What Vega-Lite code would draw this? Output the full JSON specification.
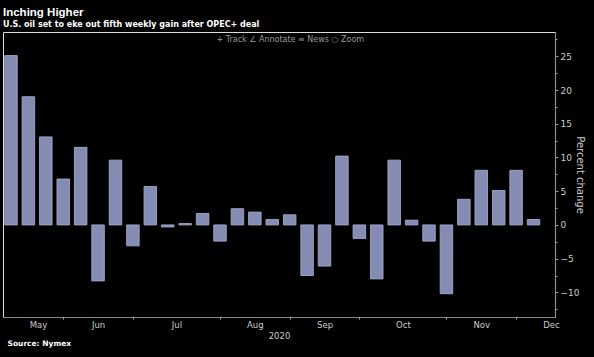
{
  "$schema": "https://vega.github.io/schema/vega-lite/v6.json",
  "autosize": "none",
  "width": 552,
  "height": 285,
  "padding": {"left": 3, "top": 32, "right": 39, "bottom": 40},
  "background": "#000000",
  "title": {
    "text": "Inching Higher",
    "subtitle": "U.S. oil set to eke out fifth weekly gain after OPEC+ deal",
    "anchor": "start",
    "frame": "group",
    "font": "Liberation Sans",
    "fontSize": 11.5,
    "fontWeight": "bold",
    "color": "#ffffff",
    "subtitleFont": "DejaVu Sans",
    "subtitleFontSize": 8,
    "subtitleFontWeight": "bold",
    "subtitleColor": "#ffffff",
    "subtitlePadding": 3,
    "offset": 3
  },
  "data": {
    "values": [
      {"date": "2020-05-08", "pct": 25.1},
      {"date": "2020-05-15", "pct": 19.0},
      {"date": "2020-05-22", "pct": 13.05},
      {"date": "2020-05-29", "pct": 6.8},
      {"date": "2020-06-05", "pct": 11.5},
      {"date": "2020-06-12", "pct": -8.3},
      {"date": "2020-06-19", "pct": 9.6},
      {"date": "2020-06-26", "pct": -3.1},
      {"date": "2020-07-03", "pct": 5.7},
      {"date": "2020-07-10", "pct": -0.3},
      {"date": "2020-07-17", "pct": 0.2},
      {"date": "2020-07-24", "pct": 1.7},
      {"date": "2020-07-31", "pct": -2.4},
      {"date": "2020-08-07", "pct": 2.4},
      {"date": "2020-08-14", "pct": 1.9},
      {"date": "2020-08-21", "pct": 0.8},
      {"date": "2020-08-28", "pct": 1.5},
      {"date": "2020-09-04", "pct": -7.5},
      {"date": "2020-09-11", "pct": -6.1},
      {"date": "2020-09-18", "pct": 10.2},
      {"date": "2020-09-25", "pct": -2.0},
      {"date": "2020-10-02", "pct": -8.0},
      {"date": "2020-10-09", "pct": 9.6},
      {"date": "2020-10-16", "pct": 0.7},
      {"date": "2020-10-23", "pct": -2.4},
      {"date": "2020-10-30", "pct": -10.2},
      {"date": "2020-11-06", "pct": 3.8},
      {"date": "2020-11-13", "pct": 8.1},
      {"date": "2020-11-20", "pct": 5.1},
      {"date": "2020-11-27", "pct": 8.1},
      {"date": "2020-12-04", "pct": 0.8}
    ]
  },
  "resolve": {"axis": {"x": "independent", "y": "independent"}},
  "layer": [
    {
      "mark": {"type": "bar", "size": 12.5, "fill": "#858cb4", "stroke": "#a3a9cc", "strokeWidth": 0.9},
      "encoding": {
        "x": {
          "field": "date",
          "type": "temporal",
          "scale": {
            "type": "utc",
            "padding": 0,
            "domain": [
              {"year": 2020, "month": 5, "date": 4, "hours": 19, "utc": true},
              {"year": 2020, "month": 12, "date": 12, "hours": 15, "utc": true}
            ]
          },
          "axis": {
            "orient": "bottom",
            "values": [
              {"year": 2020, "month": 5, "date": 18, "hours": 20, "utc": true},
              {"year": 2020, "month": 6, "date": 12, "utc": true},
              {"year": 2020, "month": 7, "date": 13, "hours": 12, "utc": true},
              {"year": 2020, "month": 8, "date": 14, "utc": true},
              {"year": 2020, "month": 9, "date": 11, "utc": true},
              {"year": 2020, "month": 10, "date": 12, "hours": 12, "utc": true},
              {"year": 2020, "month": 11, "date": 13, "utc": true},
              {"year": 2020, "month": 12, "date": 11, "utc": true}
            ],
            "labelExpr": "utcFormat(datum.value, '%b')",
            "ticks": false,
            "grid": false,
            "domain": true,
            "domainColor": "#8a8a8a",
            "domainWidth": 1.2,
            "labelColor": "#cccccc",
            "labelFont": "DejaVu Sans",
            "labelFontSize": 8.5,
            "labelPadding": 3,
            "labelOverlap": false,
            "labelFlush": false,
            "title": "2020",
            "titleColor": "#cccccc",
            "titleFont": "DejaVu Sans",
            "titleFontSize": 8.5,
            "titleFontWeight": "normal",
            "titlePadding": 3
          }
        },
        "y": {
          "field": "pct",
          "type": "quantitative",
          "scale": {"domain": [-13.65, 28.6], "nice": false, "zero": false},
          "axis": {
            "orient": "right",
            "values": [-10, -5, 0, 5, 10, 15, 20, 25],
            "grid": false,
            "tickSize": 3,
            "tickColor": "#9a9a9a",
            "domainColor": "#8a8a8a",
            "domainWidth": 1.2,
            "labelColor": "#cccccc",
            "labelFont": "DejaVu Sans",
            "labelFontSize": 9,
            "labelPadding": 2,
            "title": "Percent change",
            "titleColor": "#cccccc",
            "titleFont": "DejaVu Sans",
            "titleFontSize": 10,
            "titleFontWeight": "normal",
            "titleAngle": 90,
            "titleX": 24,
            "titleY": 142.5,
            "titleAlign": "center",
            "titleBaseline": "middle"
          }
        }
      }
    },
    {
      "mark": {"type": "bar", "size": 1, "opacity": 0},
      "encoding": {
        "x": {
          "field": "date",
          "type": "temporal",
          "axis": {
            "orient": "bottom",
            "values": [
              {"year": 2020, "month": 5, "date": 29, "utc": true},
              {"year": 2020, "month": 6, "date": 26, "utc": true},
              {"year": 2020, "month": 7, "date": 31, "utc": true},
              {"year": 2020, "month": 8, "date": 28, "utc": true},
              {"year": 2020, "month": 9, "date": 25, "utc": true},
              {"year": 2020, "month": 10, "date": 30, "utc": true},
              {"year": 2020, "month": 11, "date": 27, "utc": true}
            ],
            "labels": false,
            "ticks": true,
            "tickSize": 2,
            "tickColor": "#aaaaaa",
            "grid": false,
            "domain": false,
            "title": "Source: Nymex",
            "titleAnchor": "start",
            "titleAlign": "left",
            "titleX": 4,
            "titleY": 28,
            "titleBaseline": "alphabetic",
            "titleColor": "#ffffff",
            "titleFont": "DejaVu Sans",
            "titleFontSize": 7.5,
            "titleFontWeight": "bold"
          }
        },
        "y": {
          "field": "pct",
          "type": "quantitative",
          "axis": {
            "orient": "right",
            "values": [-12.5, -7.5, -2.5, 2.5, 7.5, 12.5, 17.5, 22.5, 27.5],
            "labels": false,
            "grid": false,
            "domain": false,
            "tickSize": 2,
            "tickColor": "#9a9a9a",
            "title": null
          }
        }
      }
    },
    {
      "mark": {"type": "bar", "size": 1, "opacity": 0},
      "encoding": {
        "x": {
          "field": "date",
          "type": "temporal",
          "axis": {
            "orient": "top",
            "labels": false,
            "ticks": false,
            "grid": false,
            "domain": false,
            "title": "+ Track   ∠ Annotate   ≡ News   ○ Zoom",
            "titleAnchor": "start",
            "titleAlign": "left",
            "titleX": 213,
            "titleY": 9,
            "titleBaseline": "alphabetic",
            "titleColor": "#9a9a9a",
            "titleFont": "DejaVu Sans",
            "titleFontSize": 8,
            "titleFontWeight": "normal"
          }
        },
        "y": {"field": "pct", "type": "quantitative", "axis": null}
      }
    }
  ]
}
